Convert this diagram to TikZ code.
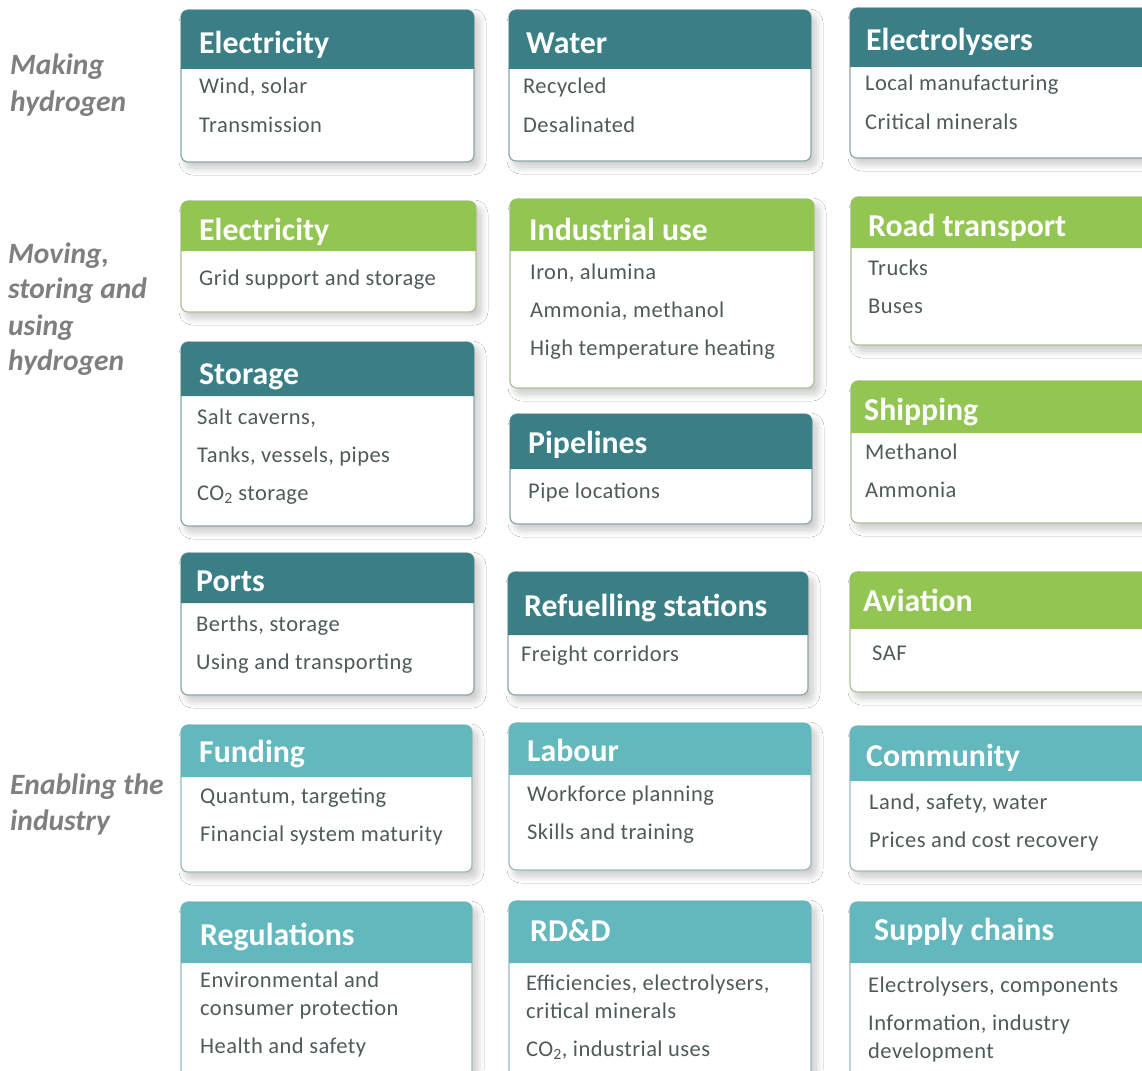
\documentclass[tikz,border=0pt]{standalone}
\usepackage{fontspec}
\setmainfont{Carlito}
\newfontfamily\bodyfont[LetterSpace=2]{Carlito}
\usetikzlibrary{shadows.blur}
\definecolor{dteal}{HTML}{3A7F86}
\definecolor{green}{HTML}{92C552}
\definecolor{lteal}{HTML}{62B8BD}
\definecolor{txtgray}{HTML}{4F5B5B}
\definecolor{lblgray}{HTML}{7F7F7F}
\tikzset{
  cardbody/.style={draw, line width=1.2pt, fill=white, rounded corners=7pt, inner sep=0pt,
    blur shadow={shadow xshift=5pt, shadow yshift=-6pt, shadow opacity=22, shadow blur radius=7pt, shadow blur steps=14}},
  ttl/.style={anchor=base west, inner sep=0pt, text=white, font=\fontsize{31.8}{36}\selectfont\bfseries},
  bt/.style={anchor=base west, inner sep=0pt, text=txtgray, font=\bodyfont\fontsize{22.5}{28}\selectfont},
  lbl/.style={anchor=base west, inner sep=0pt, text=lblgray, font=\fontsize{29.5}{36}\selectfont\bfseries\itshape},
}
\newcommand\mkcard[7]{%
  \node[cardbody, draw=#7!55!gray!70, minimum width={(#4-#2)*1pt}, minimum height={(#5-#3)*1pt}] (#1) at ({(#2+#4)/2},{(#3+#5)/2}) {};
  \fill[#7] (#2,#6) {[rounded corners=7pt] -- (#2,#3) -- (#4,#3)} -- (#4,#6) -- cycle;
}
\begin{document}
\begin{tikzpicture}[x=1pt,y=-1pt]
\useasboundingbox (0,0) rectangle (1142,1070);
\clip (0,0) rectangle (1142,1070);
\fill[white] (0,0) rectangle (1142,1070);

% left labels
\node[lbl] (l1a) at (10,75) {Making};
\node[lbl] (l1b) at (10,111) {hydrogen};
\node[lbl] (l2a) at (8,263) {Moving,};
\node[lbl] (l2b) at (8,298) {storing and};
\node[lbl] (l2c) at (8,335) {using};
\node[lbl] (l2d) at (8,370) {hydrogen};
\node[lbl] (l3a) at (10,794) {Enabling the};
\node[lbl] (l3b) at (10,830) {industry};

% cards
\mkcard{e1}{181}{10}{474}{162}{69}{dteal}
\mkcard{wat}{509}{10}{811}{161}{69}{dteal}
\mkcard{ely}{850}{8}{1152}{158}{67}{dteal}
\mkcard{e2}{181}{201}{476}{312}{251}{green}
\mkcard{ind}{510}{199}{814}{388}{251}{green}
\mkcard{road}{851}{197}{1152}{345}{248}{green}
\mkcard{sto}{181}{342}{474}{526}{396}{dteal}
\mkcard{pipe}{510}{414}{812}{524}{469}{dteal}
\mkcard{ship}{851}{381}{1152}{523}{433}{green}
\mkcard{port}{181}{553}{474}{695}{603}{dteal}
\mkcard{ref}{508}{572}{808}{695}{635}{dteal}
\mkcard{avi}{850}{572}{1152}{692}{629}{green}
\mkcard{fund}{181}{725}{472}{872}{777}{lteal}
\mkcard{lab}{509}{723}{811}{870}{775}{lteal}
\mkcard{com}{850}{726}{1152}{871}{781}{lteal}
\mkcard{reg}{181}{902}{472}{1095}{963}{lteal}
\mkcard{rdd}{509}{901}{811}{1095}{963}{lteal}
\mkcard{sup}{850}{902}{1152}{1095}{963}{lteal}

% titles
\node[ttl] (e1t) at (199,54) {Electricity};
\node[ttl] (watt) at (526,54) {Water};
\node[ttl] (elyt) at (866,51) {Electrolysers};
\node[ttl] (e2t) at (199,240) {Electricity};
\node[ttl] (indt) at (529,240) {Industrial use};
\node[ttl] (roadt) at (868,236) {Road transport};
\node[ttl] (stot) at (199,384) {Storage};
\node[ttl] (pipet) at (528,453) {Pipelines};
\node[ttl] (shipt) at (864,420) {Shipping};
\node[ttl] (portt) at (196,591) {Ports};
\node[ttl] (reft) at (524,616) {Refuelling stations};
\node[ttl] (avit) at (863,611) {Aviation};
\node[ttl] (fundt) at (199,762) {Funding};
\node[ttl] (labt) at (527,761) {Labour};
\node[ttl] (comt) at (866,766) {Community};
\node[ttl] (regt) at (200,945) {Regulations};
\node[ttl] (rddt) at (530,941) {RD\&D};
\node[ttl] (supt) at (874,940) {Supply chains};

% body text
\node[bt] (e1a) at (199,94) {Wind, solar};
\node[bt] (e1b) at (199,132) {Transmission};
\node[bt] (wata) at (523,94) {Recycled};
\node[bt] (watb) at (523,132) {Desalinated};
\node[bt] (elya) at (865,91) {Local manufacturing};
\node[bt] (elyb) at (865,129) {Critical minerals};
\node[bt] (e2a) at (199,285) {Grid support and storage};
\node[bt] (inda) at (530,279) {Iron, alumina};
\node[bt] (indb) at (530,317) {Ammonia, methanol};
\node[bt] (indc) at (530,355) {High temperature heating};
\node[bt] (roada) at (868,275) {Trucks};
\node[bt] (roadb) at (868,313) {Buses};
\node[bt] (stoa) at (197,424) {Salt caverns,};
\node[bt] (stob) at (197,462) {Tanks, vessels, pipes};
\node[bt] (stoc) at (197,500) {CO\textsubscript{2} storage};
\node[bt] (pipea) at (528,498) {Pipe locations};
\node[bt] (shipa) at (865,459) {Methanol};
\node[bt] (shipb) at (865,497) {Ammonia};
\node[bt] (porta) at (196,631) {Berths, storage};
\node[bt] (portb) at (196,669) {Using and transporting};
\node[bt] (refa) at (521,661) {Freight corridors};
\node[bt] (avia) at (872,660) {SAF};
\node[bt] (funda) at (200,803) {Quantum, targeting};
\node[bt] (fundb) at (200,841) {Financial system maturity};
\node[bt] (laba) at (527,801) {Workforce planning};
\node[bt] (labb) at (527,839) {Skills and training};
\node[bt] (coma) at (869,809) {Land, safety, water};
\node[bt] (comb) at (869,847) {Prices and cost recovery};
\node[bt] (rega) at (200,987) {Environmental and};
\node[bt] (regb) at (200,1015) {consumer protection};
\node[bt] (regc) at (200,1053) {Health and safety};
\node[bt] (rdda) at (526,990) {Efficiencies, electrolysers,};
\node[bt] (rddb) at (526,1018) {critical minerals};
\node[bt] (rddc) at (526,1056) {CO\textsubscript{2}, industrial uses};
\node[bt] (supa) at (868,992) {Electrolysers, components};
\node[bt] (supb) at (868,1030) {Information, industry};
\node[bt] (supc) at (868,1058) {development};
\end{tikzpicture}
\end{document}
